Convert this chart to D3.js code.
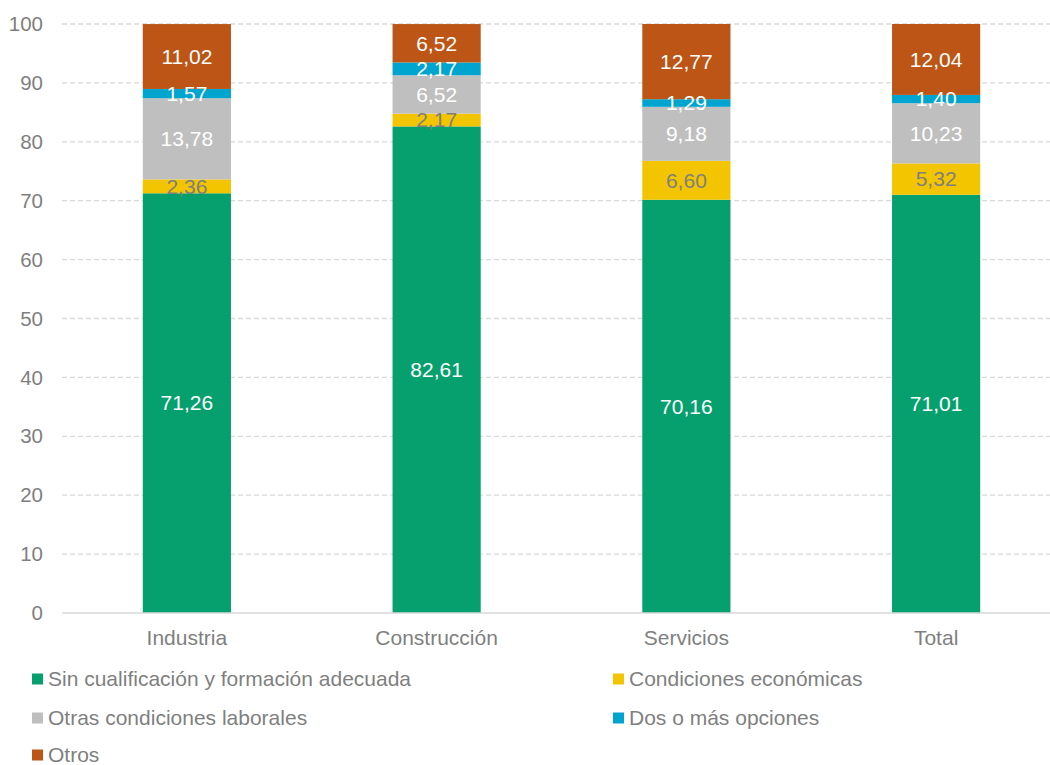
<html>
<meta charset="utf-8">
<script src="https://cdn.jsdelivr.net/npm/d3@7"></script>
<style>
  body { margin: 0; background: #fff; }
  text { font-family: "Liberation Sans", Arial, sans-serif; }
</style>
<body>
<div id="chart"></div>
<script>
var WIDTH = 1050, HEIGHT = 765;

// data
var categories = ["Industria", "Construcción", "Servicios", "Total"];
var seriesNames = ["Sin cualificación y formación adecuada", "Condiciones económicas",
                   "Otras condiciones laborales", "Dos o más opciones", "Otros"];
var sinCualificacion = [71.26, 82.61, 70.16, 71.01];
var condEconomicas   = [2.36, 2.17, 6.60, 5.32];
var otrasCondiciones = [13.78, 6.52, 9.18, 10.23];
var dosOMas          = [1.57, 2.17, 1.29, 1.40];
var otros            = [11.02, 6.52, 12.77, 12.04];
var yTicks = [0, 10, 20, 30, 40, 50, 60, 70, 80, 90, 100];

var colors = ["#05a06e", "#f2c500", "#bfbfbf", "#00a5cf", "#bc5516"];
var labelColors = ["#fff", "#7f7f7f", "#fff", "#fff", "#fff"];

var seriesValues = [sinCualificacion, condEconomicas, otrasCondiciones, dosOMas, otros];

var svg = d3.select("#chart").append("svg")
    .attr("width", WIDTH).attr("height", HEIGHT);

var x = d3.scaleBand().domain(categories).range([62, 1061]).paddingInner(0.647).paddingOuter(0.3235);
var y = d3.scaleLinear().domain([0, 100]).range([613, 24]);

// gridlines
svg.append("g").selectAll("line")
    .data(yTicks.filter(function (d) { return d > 0; }))
    .enter().append("line")
    .attr("x1", 62).attr("x2", WIDTH)
    .attr("y1", function (d) { return y(d); })
    .attr("y2", function (d) { return y(d); })
    .style("stroke", "#d9d9d9").style("stroke-width", 1.3)
    .style("stroke-dasharray", "5,3");

// y axis labels
svg.append("g").selectAll("text")
    .data(yTicks).enter().append("text")
    .attr("x", 43).attr("y", function (d) { return y(d); })
    .attr("dy", "0.35em")
    .attr("text-anchor", "end")
    .style("font-size", "20.5px").style("fill", "#7f7f7f")
    .text(function (d) { return d; });

// stack
var rows = categories.map(function (c, i) {
  var r = { cat: c };
  seriesNames.forEach(function (s, j) { r[s] = seriesValues[j][i]; });
  return r;
});
var stack = d3.stack().keys(seriesNames)(rows);

var fmt = function (v) { return v.toFixed(2).replace(".", ","); };

stack.forEach(function (layer, j) {
  var g = svg.append("g");
  g.selectAll("rect").data(layer).enter().append("rect")
      .attr("x", function (d) { return x(d.data.cat); })
      .attr("width", x.bandwidth())
      .attr("y", function (d) { return y(d[1]); })
      .attr("height", function (d) { return y(d[0]) - y(d[1]); })
      .style("fill", colors[j]);
});

// data labels on top of the bars
stack.forEach(function (layer, j) {
  svg.append("g").selectAll("text").data(layer).enter().append("text")
      .attr("x", function (d) { return x(d.data.cat) + x.bandwidth() / 2; })
      .attr("y", function (d) { return y((d[0] + d[1]) / 2); })
      .attr("dy", "0.35em")
      .attr("text-anchor", "middle")
      .style("font-size", "21px").style("fill", labelColors[j])
      .text(function (d) { return fmt(d[1] - d[0]); });
});

// baseline
svg.append("line")
    .attr("x1", 62).attr("x2", WIDTH)
    .attr("y1", y(0)).attr("y2", y(0))
    .style("stroke", "#d9d9d9").style("stroke-width", 1.5);

// category labels
svg.append("g").selectAll("text")
    .data(categories).enter().append("text")
    .attr("x", function (d) { return x(d) + x.bandwidth() / 2; })
    .attr("y", 638).attr("dy", "0.35em")
    .attr("text-anchor", "middle")
    .style("font-size", "21px").style("fill", "#7f7f7f")
    .text(function (d) { return d; });

// legend
var legendPos = [[32, 679], [613, 679], [32, 718], [613, 718], [32, 755]];
var lg = svg.append("g").selectAll("g")
    .data(seriesNames).enter().append("g")
    .attr("transform", function (d, i) { return "translate(" + legendPos[i][0] + "," + legendPos[i][1] + ")"; });
lg.append("rect")
    .attr("x", 0).attr("y", -5.5).attr("width", 11).attr("height", 11)
    .style("fill", function (d, i) { return colors[i]; });
lg.append("text")
    .attr("x", 16).attr("dy", "0.35em")
    .style("font-size", "21px").style("fill", "#7f7f7f")
    .text(function (d) { return d; });
</script>
</body>
</html>
